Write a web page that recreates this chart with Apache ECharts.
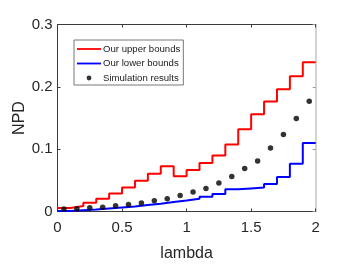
<!DOCTYPE html>
<html>
<head>
<meta charset="utf-8">
<script src="https://cdn.jsdelivr.net/npm/echarts@6/dist/echarts.min.js"></script>
<style>html,body{margin:0;padding:0;background:#fff;}#c{width:347px;height:277px;}</style>
</head>
<body>
<div id="c"></div>
<script>
// Step edges (lambda), 20 bins of width 0.1
var binStarts = [0,0.1,0.2,0.3,0.4,0.5,0.6,0.7,0.8,0.9,1.0,1.1,1.2,1.3,1.4,1.5,1.6,1.7,1.8,1.9];
var xEnd = 2.0;
var upperBounds = [0.0055,0.0087,0.014,0.0205,0.029,0.0387,0.0494,0.0607,0.0725,0.0564,0.0665,0.078,0.0898,0.1075,0.132,0.156,0.1765,0.196,0.217,0.2393];
var lowerBounds = [0.001,0.0022,0.0033,0.005,0.0066,0.0082,0.0103,0.0124,0.0151,0.0177,0.0204,0.0237,0.028,0.0355,0.037,0.0385,0.0443,0.0555,0.0765,0.1098];
var simX = [0.05,0.15,0.25,0.35,0.45,0.55,0.65,0.75,0.85,0.95,1.05,1.15,1.25,1.35,1.45,1.55,1.65,1.75,1.85,1.95];
var simY = [0.0039,0.0045,0.006,0.007,0.0092,0.0113,0.0135,0.0172,0.0205,0.0258,0.0313,0.037,0.0457,0.0562,0.0688,0.081,0.1018,0.1235,0.149,0.1768];
var xTicks = [0,0.5,1,1.5,2];
var yTicks = [0,0.1,0.2,0.3];

function stepData(vals){
  var d = binStarts.map(function(x,i){return [x, vals[i]];});
  d.push([xEnd, vals[vals.length-1]]);
  return d;
}
var simData = simX.map(function(x,i){return [x, simY[i]];});

var chart = echarts.init(document.getElementById('c'), null, {renderer:'canvas'});
var font = 'Liberation Sans, Arial, sans-serif';
var axisCol = '#3a3a3a';
var lineIcon = 'path://M0,0L0,0M24,10L24,10M0,4.1h24v1.8h-24z';
var dotIcon = 'path://M0,0L0,0M24,10L24,10M9.6,5a2.4,2.4 0 1,0 4.8,0a2.4,2.4 0 1,0 -4.8,0z';
chart.setOption({
  animation:false,
  grid:{left:57.5, right:31.3, top:24.5, bottom:65.5, containLabel:false, outerBoundsMode:'none'},
  legend:{
    left:74, top:40, orient:'vertical',
    backgroundColor:'#fff', borderColor:'#555', borderWidth:0.8,
    padding:[4,3,2,3], itemGap:4.5, itemWidth:24, itemHeight:10,
    textStyle:{fontFamily:font, fontSize:9.6, color:'#1a1a1a', padding:[0,0,0,-3]},
    data:[
      {name:'Our upper bounds', icon:lineIcon},
      {name:'Our lower bounds', icon:lineIcon},
      {name:'Simulation results', icon:dotIcon}
    ]
  },
  xAxis:[{
    type:'value', min:0, max:2, interval:0.5,
    name:'lambda', nameLocation:'middle', nameGap:34, nameMoveOverlap:false,
    nameTextStyle:{fontFamily:font, fontSize:16, color:'#262626'},
    axisLine:{show:true, onZero:false, lineStyle:{color:axisCol, width:1}},
    axisTick:{show:true, inside:true, length:3, lineStyle:{color:axisCol}},
    axisLabel:{fontFamily:font, fontSize:15, color:'#262626', margin:9,
      formatter:function(v){return String(v);}},
    splitLine:{show:false}
  },{
    type:'value', min:0, max:2, interval:0.5, position:'top',
    axisLine:{show:true, onZero:false, lineStyle:{color:axisCol, width:1}},
    axisTick:{show:true, inside:true, length:3, lineStyle:{color:axisCol}},
    axisLabel:{show:false}, splitLine:{show:false}
  }],
  yAxis:[{
    type:'value', min:0, max:0.3, interval:0.1,
    name:'NPD', nameLocation:'middle', nameGap:30, nameRotate:90, nameMoveOverlap:false,
    nameTextStyle:{fontFamily:font, fontSize:16, color:'#262626'},
    axisLine:{show:true, onZero:false, lineStyle:{color:axisCol, width:1}},
    axisTick:{show:true, inside:true, length:3, lineStyle:{color:axisCol}},
    axisLabel:{fontFamily:font, fontSize:15, color:'#262626', margin:5,
      formatter:function(v){return String(Math.round(v*10)/10);}},
    splitLine:{show:false}
  },{
    type:'value', min:0, max:0.3, interval:0.1, position:'right',
    axisLine:{show:true, onZero:false, lineStyle:{color:'#c4c4c4', width:1.5}},
    axisTick:{show:true, inside:true, length:3, lineStyle:{color:'#999'}},
    axisLabel:{show:false}, splitLine:{show:false}
  }],
  series:[
    {name:'Our upper bounds', type:'line', step:'end', data:stepData(upperBounds),
     symbol:'none', lineStyle:{color:'#ff0000', width:2}, itemStyle:{color:'#ff0000'}, z:3},
    {name:'Our lower bounds', type:'line', step:'end', data:stepData(lowerBounds),
     symbol:'none', lineStyle:{color:'#0000ff', width:2}, itemStyle:{color:'#0000ff'}, z:3},
    {name:'Simulation results', type:'scatter', data:simData, symbol:'circle', symbolSize:5.5,
     itemStyle:{color:'#000'}, z:4}
  ]
});
</script>
</body>
</html>
